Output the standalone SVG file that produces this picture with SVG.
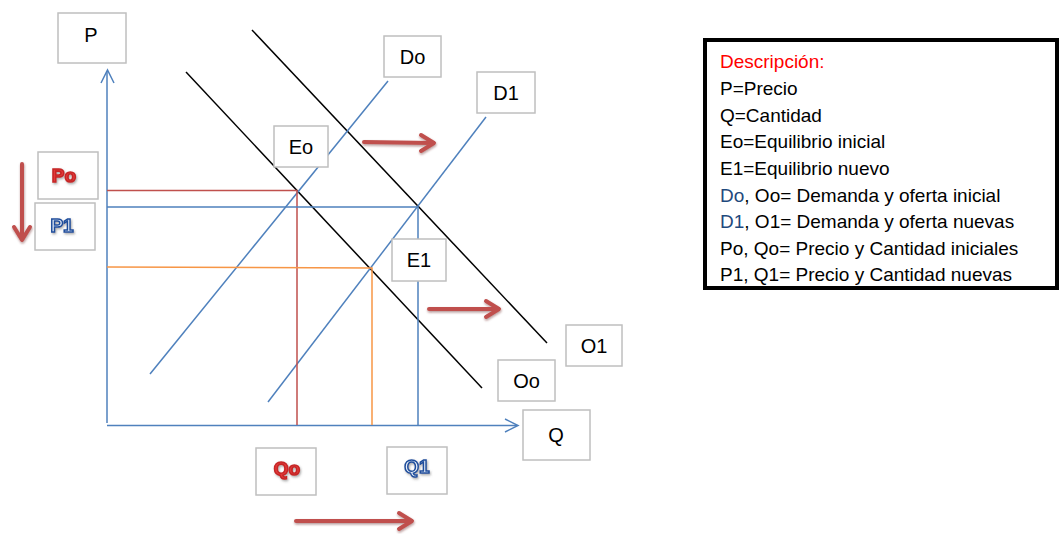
<svg xmlns="http://www.w3.org/2000/svg" width="1060" height="534" viewBox="0 0 1060 534">
  <style>
    .box { fill: #ffffff; stroke: #bfbfbf; stroke-width: 1.5; }
    .lbl { font-family: "Liberation Sans", Arial, sans-serif; font-size: 20px; fill: #000000; text-anchor: middle; }
    .blue { stroke: #4f81bd; stroke-width: 1.5; fill: none; }
    .black { stroke: #000000; stroke-width: 1.5; fill: none; }
    .shift { stroke: #c0504d; stroke-width: 4; fill: none; stroke-linecap: round; stroke-linejoin: round; }
    .wa { font-family: "Liberation Sans", Arial, sans-serif; font-size: 19px; font-weight: bold; text-anchor: middle; }
    .wa-red { fill: #e63a3a; stroke: #c62828; stroke-width: 1.6; }
    .wa-blue { fill: #e8eef8; stroke: #1f4e9c; stroke-width: 1.5; }
    .leg { font-family: "Liberation Sans", Arial, sans-serif; font-size: 19px; fill: #000000; }
  </style>
  <defs>
    <filter id="shadow" x="-20%" y="-40%" width="140%" height="180%">
      <feDropShadow dx="0.5" dy="1.5" stdDeviation="1" flood-color="#5a1a1a" flood-opacity="0.45"/>
    </filter>
    <filter id="wshadow" x="-20%" y="-30%" width="140%" height="160%">
      <feDropShadow dx="1" dy="1.5" stdDeviation="0.8" flood-color="#555555" flood-opacity="0.5"/>
    </filter>
  </defs>
  <rect width="1060" height="534" fill="#ffffff"/>

  <!-- connectors: axes, curves, guide lines and shift arrows -->
  <g id="connectors">
    <!-- axes -->
    <path class="blue" d="M107 423 L107 71"/>
    <path class="blue" d="M101 83 L107.5 70 L114 83"/>
    <path class="blue" d="M107 425.5 L517 425.5"/>
    <path class="blue" d="M505 419 L518 425.5 L505 432"/>

    <!-- downward sloping lines -->
    <path class="black" d="M186 72 L482 388"/>
    <path class="black" d="M252 30 L547 343"/>

    <!-- upward sloping lines -->
    <path class="blue" d="M150 374 L388 81"/>
    <path class="blue" d="M268 402 L486 117"/>

    <!-- guide lines to the axes -->
    <path d="M107 190.5 L297 190.5 L297 425" stroke="#c0504d" stroke-width="1.5" fill="none"/>
    <path d="M107 207 L418 207 L418 425" stroke="#4f81bd" stroke-width="1.5" fill="none"/>
    <path d="M107 267 L372 268 L372 425" stroke="#f79646" stroke-width="1.5" fill="none"/>

    <!-- shift arrows -->
    <g filter="url(#shadow)">
      <path class="shift" d="M22 164 L22 239 M14 227 L22 240 L30 227"/>
      <path class="shift" d="M296 521 L411 521 M399 513 L412 521 L399 529"/>
      <path class="shift" d="M364 142 L432 143 M421 135 L434 143 L421 151"/>
      <path class="shift" d="M429 309 L497 309 M486 301 L499 309 L486 317"/>
    </g>
  </g>

  <!-- label boxes -->
  <g id="node-P"><rect class="box" x="58" y="13" width="68" height="50"/><text class="lbl" x="91" y="42">P</text></g>
  <g id="node-Q"><rect class="box" x="523" y="410" width="67" height="50"/><text class="lbl" x="556" y="442">Q</text></g>
  <g id="node-Do"><rect class="box" x="384" y="36" width="57" height="41"/><text class="lbl" x="412.5" y="64">Do</text></g>
  <g id="node-D1"><rect class="box" x="477" y="72" width="58" height="41"/><text class="lbl" x="506" y="100">D1</text></g>
  <g id="node-Eo"><rect class="box" x="274" y="126" width="54" height="41"/><text class="lbl" x="301" y="154">Eo</text></g>
  <g id="node-E1"><rect class="box" x="392" y="239" width="54" height="42"/><text class="lbl" x="419" y="267">E1</text></g>
  <g id="node-O1"><rect class="box" x="566" y="325" width="56" height="41"/><text class="lbl" x="594" y="353">O1</text></g>
  <g id="node-Oo"><rect class="box" x="498" y="360" width="57" height="41"/><text class="lbl" x="526.5" y="388">Oo</text></g>

  <g id="node-Po"><rect class="box" x="38" y="152" width="60" height="47"/><text class="wa wa-red" x="64" y="182" filter="url(#wshadow)">Po</text></g>
  <g id="node-P1"><rect class="box" x="35" y="203" width="60" height="47"/><text class="wa wa-blue" x="62" y="232" filter="url(#wshadow)">P1</text></g>
  <g id="node-Qo"><rect class="box" x="256" y="448" width="60" height="47"/><text class="wa wa-red" x="287" y="475" filter="url(#wshadow)">Qo</text></g>
  <g id="node-Q1"><rect class="box" x="387" y="447" width="60" height="47"/><text class="wa wa-blue" x="417" y="473" filter="url(#wshadow)">Q1</text></g>

  <!-- legend -->
  <g id="legend">
    <rect x="705" y="40" width="352" height="248" fill="#ffffff" stroke="#000000" stroke-width="4"/>
    <text class="leg" x="720" y="68" style="fill:#ff0000">Descripción:</text>
    <text class="leg" x="720" y="95">P=Precio</text>
    <text class="leg" x="720" y="121.5">Q=Cantidad</text>
    <text class="leg" x="720" y="148">Eo=Equilibrio inicial</text>
    <text class="leg" x="720" y="175">E1=Equilibrio nuevo</text>
    <text class="leg" x="720" y="201.5"><tspan style="fill:#1f497d">Do</tspan>, Oo= Demanda y oferta inicial</text>
    <text class="leg" x="720" y="228"><tspan style="fill:#1f497d">D1</tspan>, O1= Demanda y oferta nuevas</text>
    <text class="leg" x="720" y="255">Po, Qo= Precio y Cantidad iniciales</text>
    <text class="leg" x="720" y="281">P1, Q1= Precio y Cantidad nuevas</text>
  </g>
</svg>
